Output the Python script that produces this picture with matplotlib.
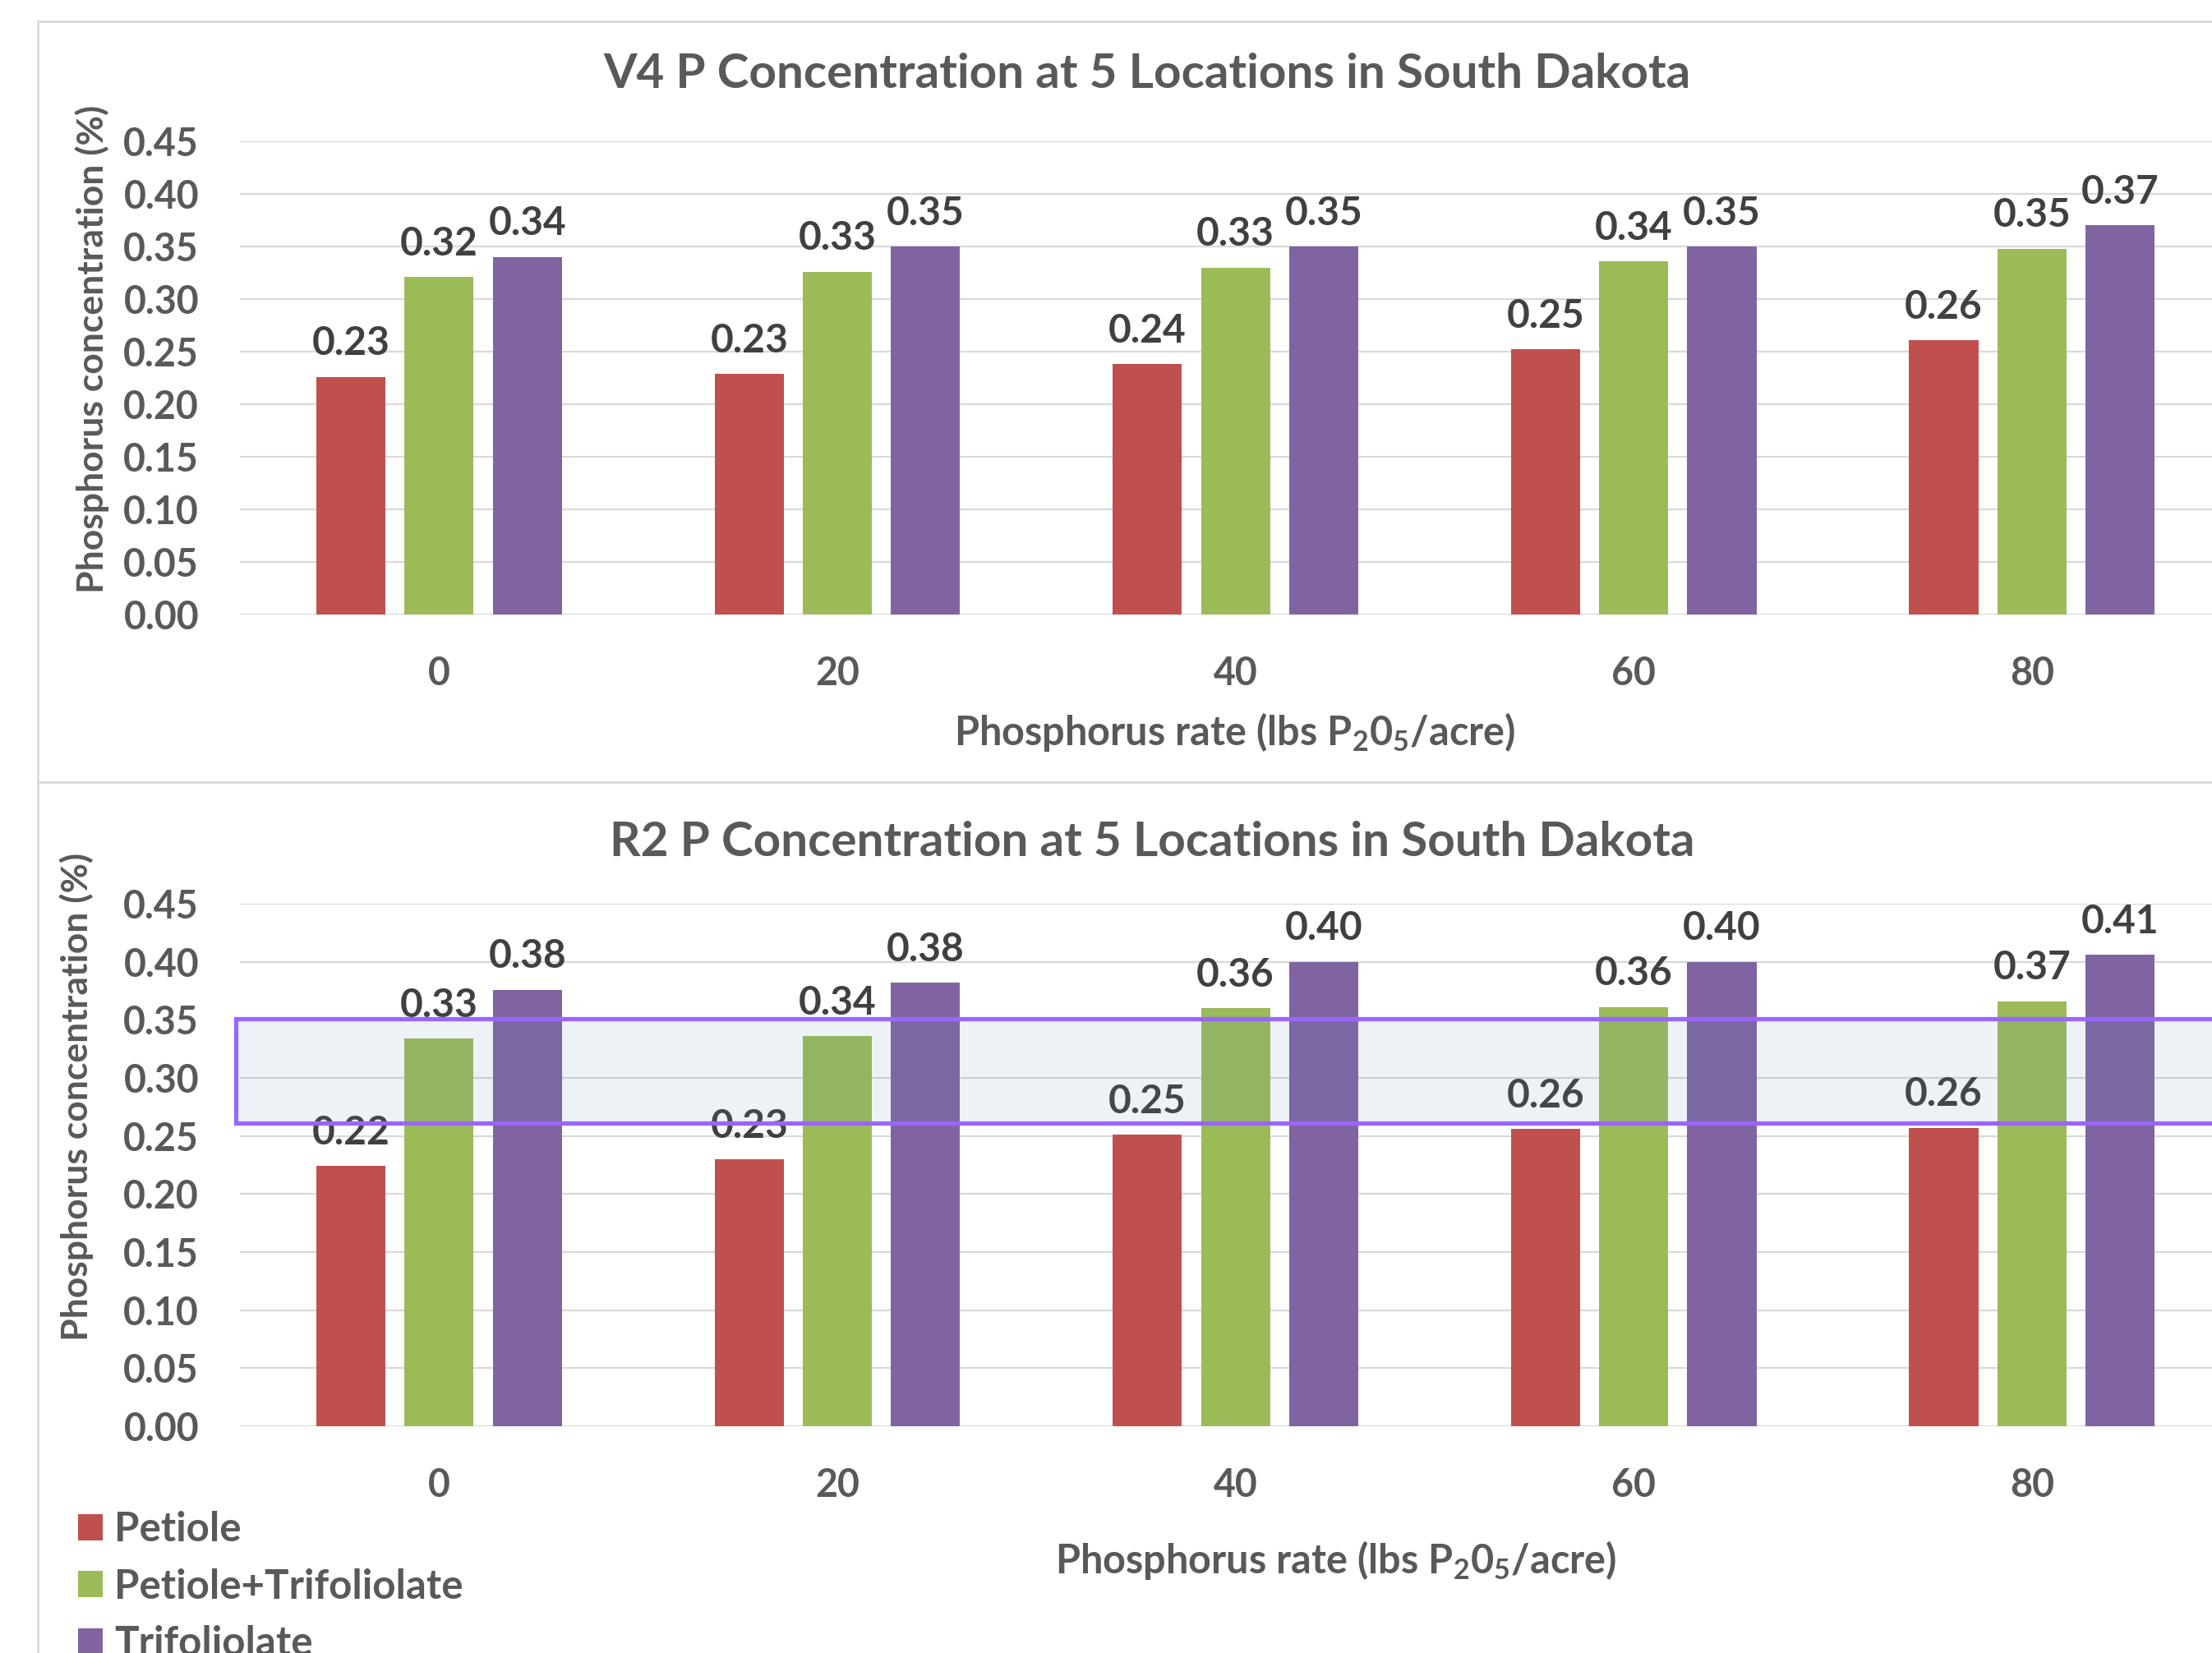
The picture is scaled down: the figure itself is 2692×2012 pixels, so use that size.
import numpy as np
import matplotlib
matplotlib.use("Agg")
import matplotlib.pyplot as plt
from matplotlib.patches import Rectangle, Patch
from matplotlib.lines import Line2D

# datos
tasas = ["0", "20", "40", "60", "80"]
series = ["Petiole", "Petiole+Trifoliolate", "Trifoliolate"]
colores = ["#C0504D", "#9BBB59", "#8064A2"]

v4_petiole = [0.226, 0.229, 0.238, 0.252, 0.261]
v4_pet_tri = [0.321, 0.326, 0.330, 0.336, 0.348]
v4_trifol = [0.340, 0.350, 0.350, 0.350, 0.370]

r2_petiole = [0.224, 0.230, 0.251, 0.256, 0.257]
r2_pet_tri = [0.334, 0.336, 0.360, 0.361, 0.366]
r2_trifol = [0.376, 0.382, 0.400, 0.400, 0.406]

# rango suficiente resaltado en R2
rango_bajo = 0.261
rango_alto = 0.351

y_ticks = [0.00, 0.05, 0.10, 0.15, 0.20, 0.25, 0.30, 0.35, 0.40, 0.45]

plt.rcParams["font.family"] = ["Lato", "DejaVu Sans"]
plt.rcParams["font.weight"] = "bold"
plt.rcParams["mathtext.fontset"] = "custom"
plt.rcParams["mathtext.rm"] = "Lato:bold"
plt.rcParams["mathtext.it"] = "Lato:bold"
plt.rcParams["mathtext.bf"] = "Lato:bold"

GRIS = "#595959"
GRIS_OSC = "#404040"
LINEA = "#D9D9D9"


def graficar_barras(ax, valores):
    """
    Dibuja las tres series como barras agrupadas con sus etiquetas
    """
    x = np.arange(len(tasas))
    ancho = 0.1736
    paso = 0.2214
    for i, serie in enumerate(valores):
        pos = x + (i - 1) * paso
        barras = ax.bar(pos, serie, width=ancho, color=colores[i], zorder=2)
        for b, v in zip(barras, serie):
            ax.annotate(f"{v:.2f}", (b.get_x() + b.get_width() / 2, v),
                        xytext=(0, 19), textcoords="offset points",
                        ha="center", va="baseline", fontsize=34.5,
                        fontweight="bold", color=GRIS_OSC, zorder=3)

    ax.set_xlim(-0.5, 4.5)
    ax.set_ylim(0, 0.45)
    ax.set_yticks(y_ticks)
    ax.set_yticklabels([f"{t:.2f}" for t in y_ticks])
    ax.set_xticks(x)
    ax.set_xticklabels(tasas)
    ax.tick_params(length=0, labelsize=33.5, colors=GRIS, pad=36)
    for t in ax.get_xticklabels() + ax.get_yticklabels():
        t.set_fontweight("bold")
    ax.grid(axis="y", color=LINEA, linewidth=1.6, zorder=0)
    ax.set_axisbelow(True)
    for s in ax.spines.values():
        s.set_visible(False)


fig = plt.figure(figsize=(26.92, 20.12), dpi=100)

ax1 = fig.add_axes([0.1085, 0.6282, 0.9001, 0.2863])
graficar_barras(ax1, [v4_petiole, v4_pet_tri, v4_trifol])

ax2 = fig.add_axes([0.1085, 0.1372, 0.9001, 0.3161])
graficar_barras(ax2, [r2_petiole, r2_pet_tri, r2_trifol])

# recuadro del rango
caja = Rectangle((-0.51, rango_bajo), 5.2, rango_alto - rango_bajo,
                 facecolor=(85 / 255, 135 / 255, 185 / 255, 0.1),
                 edgecolor="#9966FF", linewidth=3.8, zorder=5, clip_on=False)
ax2.add_patch(caja)

# titulos y ejes
fig.text(0.5186, 0.955, "V4 P Concentration at 5 Locations in South Dakota",
         ha="center", va="center", fontsize=42, fontweight="bold", color=GRIS)
fig.text(0.521, 0.4905, "R2 P Concentration at 5 Locations in South Dakota",
         ha="center", va="center", fontsize=42, fontweight="bold", color=GRIS)

etiqueta_x = "Phosphorus rate (lbs P$_2$0$_5$/acre)"
fig.text(0.558, 0.557, etiqueta_x, ha="center", va="center",
         fontsize=35, fontweight="bold", color=GRIS)
fig.text(0.604, 0.0561, etiqueta_x, ha="center", va="center",
         fontsize=35, fontweight="bold", color=GRIS)

etiqueta_y = "Phosphorus concentration (%)"
fig.text(0.0416, 0.789, etiqueta_y, ha="center", va="center", rotation=90,
         fontsize=32, fontweight="bold", color=GRIS)
fig.text(0.0345, 0.3365, etiqueta_y, ha="center", va="center", rotation=90,
         fontsize=32, fontweight="bold", color=GRIS)

# leyenda abajo a la izquierda
manejadores = [Patch(facecolor=c, edgecolor="none") for c in colores]
fig.legend(manejadores, series, loc="upper left",
           bbox_to_anchor=(0.0353, 0.0858), frameon=False,
           handlelength=0.6, handleheight=0.6, handletextpad=0.3,
           labelspacing=0.49, borderpad=0, borderaxespad=0, labelcolor=GRIS,
           prop={"weight": "bold", "size": 35.5})

# bordes de los paneles
fig.add_artist(Line2D([0.0171, 1.0], [0.987, 0.987], color=LINEA, lw=2))
fig.add_artist(Line2D([0.0171, 1.0], [0.527, 0.527], color=LINEA, lw=2))
fig.add_artist(Line2D([0.0171, 0.0171], [0.987, 0.0], color=LINEA, lw=2))

fig.savefig("out.png", dpi=100)
